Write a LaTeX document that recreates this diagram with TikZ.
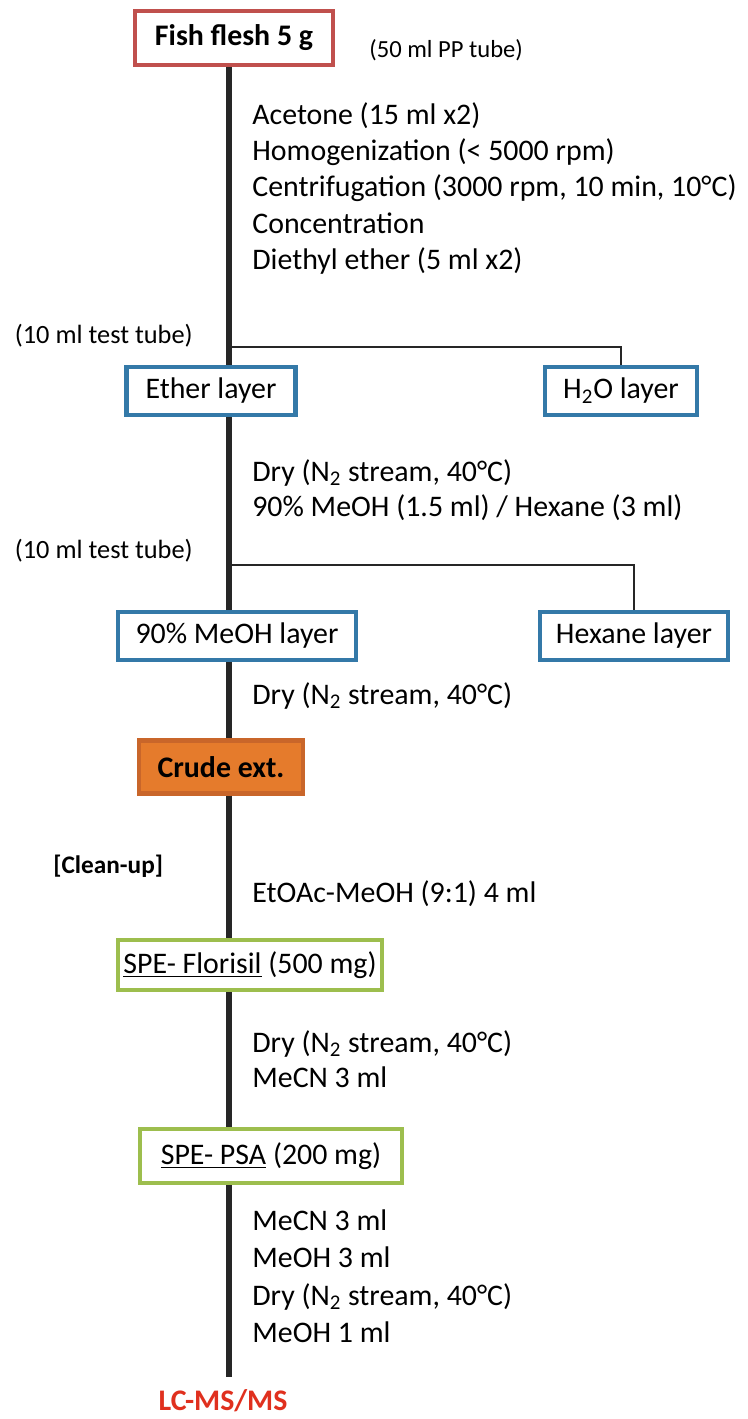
\documentclass[tikz,border=0pt]{standalone}
\usepackage{fontspec}
\setmainfont{Carlito}
\usetikzlibrary{positioning,calc}
\definecolor{fishred}{HTML}{C0504D}
\definecolor{layerblue}{HTML}{3479A8}
\definecolor{crudeorange}{HTML}{E57B2C}
\definecolor{crudeedge}{HTML}{C9662A}
\definecolor{spegreen}{HTML}{9DBE4E}
\definecolor{msred}{HTML}{E0301E}

\begin{document}
\begin{tikzpicture}[
    x=0.02cm, y=-0.02cm,
    box/.style={draw=#1, line width=2.3pt, fill=white, minimum height=0.96cm, inner sep=3pt, font=\fontsize{17}{20}\selectfont},
    note/.style={anchor=north west, align=left, inner sep=0pt, font=\fontsize{17}{20.7}\selectfont},
    small/.style={inner sep=0pt, font=\fontsize{15}{17}\selectfont},
    spine/.style={line width=3pt, draw=black!85},
    branch/.style={line width=1pt, draw=black!85},
]
\useasboundingbox (0,0) rectangle (747,1419);

% sample
\node[box=fishred, minimum width=3.96cm, minimum height=1.08cm, font=\fontsize{17}{20}\selectfont\bfseries] (fish) at (234,38) {Fish flesh 5 g};
\node[small, anchor=west, font=\fontsize{14}{16}\selectfont] (pp) at (369,50) {(50 ml PP tube)};
\node[note] (ext) at (252,102) {Acetone (15 ml x2)\\Homogenization (< 5000 rpm)\\Centrifugation (3000 rpm, 10 min, 10°C)\\Concentration\\Diethyl ether (5 ml x2)};

% partition 1
\coordinate (split1) at (229,347);
\node[small, anchor=east] (tube1) at (193,336) {(10 ml test tube)};
\node[box=layerblue, minimum width=3.38cm] (ether) at (211,391) {Ether layer};
\node[box=layerblue, minimum width=3.04cm] (water) at (621,391) {H\textsubscript{2}O layer};
\node[note, font=\fontsize{17}{20}\selectfont] (dry1) at (252,459) {Dry (N\textsubscript{2} stream, 40°C)\\90\% MeOH (1.5 ml) / Hexane (3 ml)};

% partition 2
\coordinate (split2) at (229,565);
\node[small, anchor=east] (tube2) at (193,551) {(10 ml test tube)};
\node[box=layerblue, minimum width=4.76cm] (meoh) at (237,636) {90\% MeOH layer};
\node[box=layerblue, minimum width=3.76cm] (hexane) at (634,636) {Hexane layer};
\node[note] (dry2) at (252,682) {Dry (N\textsubscript{2} stream, 40°C)};

\node[box=crudeedge, fill=crudeorange, minimum width=3.28cm, minimum height=1.06cm, font=\fontsize{17}{20}\selectfont\bfseries] (crude) at (221,767) {Crude ext.};

% clean-up
\node[small, anchor=west, font=\fontsize{14.4}{16}\selectfont\bfseries] (cleanup) at (53,866) {[Clean-up]};
\node[note] (load) at (252,880) {EtOAc-MeOH (9:1) 4 ml};
\node[box=spegreen, minimum width=4.92cm, minimum height=1.0cm] (florisil) at (250,965) {\underline{SPE- Florisil} (500 mg)};
\node[note, font=\fontsize{17}{20}\selectfont] (dry3) at (252,1030) {Dry (N\textsubscript{2} stream, 40°C)\\MeCN 3 ml};
\node[box=spegreen, minimum width=5.24cm, minimum height=1.08cm] (psa) at (271,1156) {\underline{SPE- PSA} (200 mg)};
\node[note, font=\fontsize{17}{21.4}\selectfont] (elute) at (252,1209) {MeCN 3 ml\\MeOH 3 ml\\Dry (N\textsubscript{2} stream, 40°C)\\MeOH 1 ml};

\coordinate (fin) at (229,1377);
\node[font=\fontsize{17}{20}\selectfont\bfseries, text=msred, inner sep=0pt] (lcms) at (223,1401) {LC-MS/MS};

% main line
\foreach \a/\b in {fish/ether, ether/meoh, meoh/crude, crude/florisil, florisil/psa}
  \draw[spine] (fin |- \a.south) -- (fin |- \b.north);
\draw[spine] (fin |- psa.south) -- (fin);

% side branches
\draw[branch] (split1) -| (water.north);
\draw[branch] (split2) -| (hexane.north);

\end{tikzpicture}
\end{document}
